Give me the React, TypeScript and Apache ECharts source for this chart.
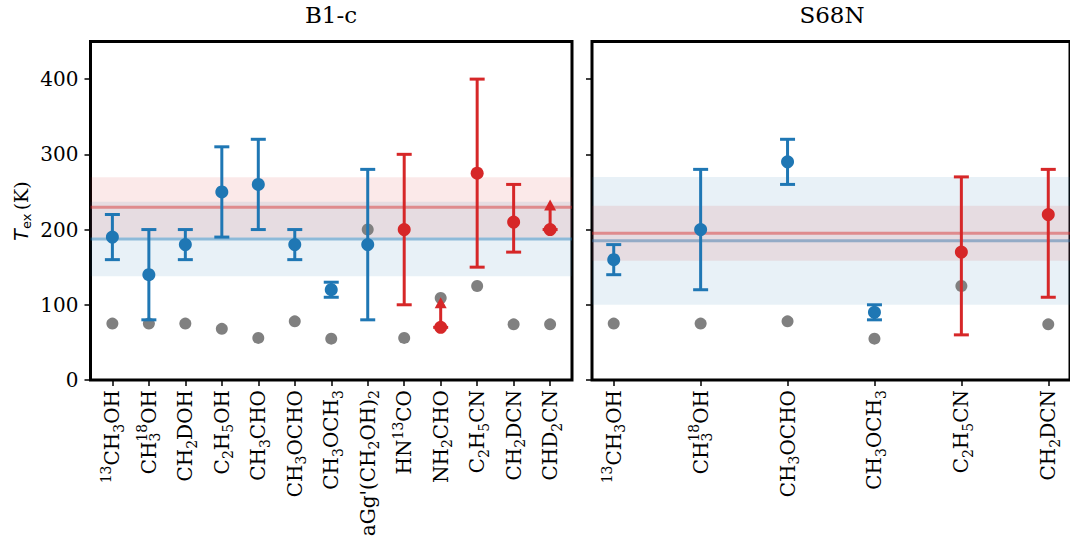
import React, { useEffect, useRef } from "react";
import * as echarts from "echarts";

// ---------- data ----------
const leftCategories = [
  "{sup|13}CH{sub|3}OH",
  "CH{sub|3}{supo|18}OH",
  "CH{sub|2}DOH",
  "C{sub|2}H{sub|5}OH",
  "CH{sub|3}CHO",
  "CH{sub|3}OCHO",
  "CH{sub|3}OCH{sub|3}",
  "aGg'(CH{sub|2}OH){sub|2}",
  "HN{sup|13}CO",
  "NH{sub|2}CHO",
  "C{sub|2}H{sub|5}CN",
  "CH{sub|2}DCN",
  "CHD{sub|2}CN",
];
const rightCategories = [
  "{sup|13}CH{sub|3}OH",
  "CH{sub|3}{supo|18}OH",
  "CH{sub|3}OCHO",
  "CH{sub|3}OCH{sub|3}",
  "C{sub|2}H{sub|5}CN",
  "CH{sub|2}DCN",
];
const yTicks = [0, 100, 200, 300, 400];

// B1-c
const leftBlueIdx = [0, 1, 2, 3, 4, 5, 6, 7];
const leftBlueVal = [190, 140, 180, 250, 260, 180, 120, 180];
const leftBlueLo = [160, 80, 160, 190, 200, 160, 110, 80];
const leftBlueHi = [220, 200, 200, 310, 320, 200, 130, 280];
const leftRedIdx = [8, 10, 11];
const leftRedVal = [200, 275, 210];
const leftRedLo = [100, 150, 170];
const leftRedHi = [300, 400, 260];
const leftLimIdx = [9, 12];
const leftLimVal = [70, 200];
const leftLimTop = [110, 240];
const leftGray = [75, 75, 75, 68, 56, 78, 55, 200, 56, 109, 125, 74, 74];
const leftBlueBand = [187.5, 138, 237]; // mean, low, high
const leftRedBand = [229.5, 189.5, 269.5];

// S68N
const rightBlueIdx = [0, 1, 2, 3];
const rightBlueVal = [160, 200, 290, 90];
const rightBlueLo = [140, 120, 260, 80];
const rightBlueHi = [180, 280, 320, 100];
const rightRedIdx = [4, 5];
const rightRedVal = [170, 220];
const rightRedLo = [60, 110];
const rightRedHi = [270, 280];
const rightGray = [75, 75, 78, 55, 125, 74];
const rightBlueBand = [185, 100, 270];
const rightRedBand = [195, 158.5, 231.5];

// ---------- styling ----------
const BLUE = "#1f77b4";
const RED = "#d62728";
const GRAY = "#808080";
const SERIF = "DejaVu Serif";

const rich = {
  sub: { fontSize: 14, fontFamily: SERIF, verticalAlign: "bottom", lineHeight: 14, color: "#000" },
  sup: { fontSize: 14, fontFamily: SERIF, verticalAlign: "top", lineHeight: 14, color: "#000" },
  supo: { fontSize: 14, fontFamily: SERIF, verticalAlign: "top", lineHeight: 14, color: "#000", padding: [0, 0, 0, -9] },
};

function errorBarRender(color: string) {
  return (params: any, api: any) => {
    const x = api.value(0);
    const lo = api.value(2);
    const hi = api.value(3);
    const p1 = api.coord([x, lo]);
    const p2 = api.coord([x, hi]);
    const hw = 7.5;
    const st = { stroke: color, lineWidth: 3 };
    return {
      type: "group",
      children: [
        { type: "line", shape: { x1: p1[0], y1: p1[1], x2: p2[0], y2: p2[1] }, style: st },
        { type: "line", shape: { x1: p1[0] - hw, y1: p1[1], x2: p1[0] + hw, y2: p1[1] }, style: st },
        { type: "line", shape: { x1: p2[0] - hw, y1: p2[1], x2: p2[0] + hw, y2: p2[1] }, style: st },
      ],
    };
  };
}

function arrowRender(color: string) {
  return (params: any, api: any) => {
    const x = api.value(0);
    const v = api.value(1);
    const top = api.value(2);
    const p1 = api.coord([x, v]);
    const p2 = api.coord([x, top]);
    const hw = 7.5;
    const headW = 6;
    const headH = 11;
    const st = { stroke: color, lineWidth: 3 };
    return {
      type: "group",
      children: [
        { type: "line", shape: { x1: p1[0], y1: p1[1], x2: p2[0], y2: p2[1] + headH - 1 }, style: st },
        { type: "line", shape: { x1: p1[0] - hw, y1: p1[1], x2: p1[0] + hw, y2: p1[1] }, style: st },
        {
          type: "polygon",
          shape: { points: [[p2[0], p2[1]], [p2[0] - headW, p2[1] + headH], [p2[0] + headW, p2[1] + headH]] },
          style: { fill: color },
        },
      ],
    };
  };
}

function bandRender(rgb: string) {
  return (params: any, api: any) => {
    const cs = params.coordSys;
    const mean = api.value(1);
    const lo = api.value(2);
    const hi = api.value(3);
    const yLo = api.coord([0, lo])[1];
    const yHi = api.coord([0, hi])[1];
    const yM = api.coord([0, mean])[1];
    return {
      type: "group",
      children: [
        {
          type: "rect",
          shape: { x: cs.x, y: yHi, width: cs.width, height: yLo - yHi },
          style: { fill: `rgba(${rgb},0.1)` },
        },
        {
          type: "line",
          shape: { x1: cs.x, y1: yM, x2: cs.x + cs.width, y2: yM },
          style: { stroke: `rgba(${rgb},0.45)`, lineWidth: 3 },
        },
      ],
    };
  };
}

function panelSeries(
  gi: number,
  blueIdx: number[], blueVal: number[], blueLo: number[], blueHi: number[],
  redIdx: number[], redVal: number[], redLo: number[], redHi: number[],
  limIdx: number[], limVal: number[], limTop: number[],
  gray: number[], blueBand: number[], redBand: number[]
) {
  const ax = { xAxisIndex: gi, yAxisIndex: gi };
  const s: any[] = [
    {
      type: "custom", ...ax, z: 1, silent: true,
      renderItem: bandRender("31,119,180"),
      encode: { x: 0, y: [1, 2, 3] },
      data: [[0, blueBand[0], blueBand[1], blueBand[2]]],
    },
    {
      type: "custom", ...ax, z: 1, silent: true,
      renderItem: bandRender("214,39,40"),
      encode: { x: 0, y: [1, 2, 3] },
      data: [[0, redBand[0], redBand[1], redBand[2]]],
    },
    {
      type: "scatter", ...ax, z: 2, symbolSize: 12,
      itemStyle: { color: GRAY, opacity: 1 },
      data: gray.map((v, i) => [i, v]),
    },
    {
      type: "custom", ...ax, z: 3, renderItem: errorBarRender(BLUE),
      encode: { x: 0, y: [1, 2, 3] },
      data: blueIdx.map((x, i) => [x, blueVal[i], blueLo[i], blueHi[i]]),
    },
    {
      type: "scatter", ...ax, z: 4, symbolSize: 13,
      itemStyle: { color: BLUE, opacity: 1 },
      data: blueIdx.map((x, i) => [x, blueVal[i]]),
    },
    {
      type: "custom", ...ax, z: 3, renderItem: errorBarRender(RED),
      encode: { x: 0, y: [1, 2, 3] },
      data: redIdx.map((x, i) => [x, redVal[i], redLo[i], redHi[i]]),
    },
    {
      type: "scatter", ...ax, z: 4, symbolSize: 13,
      itemStyle: { color: RED, opacity: 1 },
      data: redIdx.map((x, i) => [x, redVal[i]]),
    },
  ];
  if (limIdx.length) {
    s.push(
      {
        type: "custom", ...ax, z: 3, renderItem: arrowRender(RED),
        encode: { x: 0, y: [1, 2] },
        data: limIdx.map((x, i) => [x, limVal[i], limTop[i]]),
      },
      {
        type: "scatter", ...ax, z: 4, symbolSize: 13,
        itemStyle: { color: RED, opacity: 1 },
        data: limIdx.map((x, i) => [x, limVal[i]]),
      }
    );
  }
  return s;
}

function xAxis(gi: number, cats: string[], margin: number) {
  const idx = cats.map((_, i) => i);
  const n = cats.length - 1;
  return {
    type: "value",
    gridIndex: gi,
    min: -margin,
    max: n + margin,
    splitLine: { show: false },
    axisLine: { show: false, onZero: false },
    axisTick: { show: true, customValues: idx, length: 6, lineStyle: { color: "#000", width: 1.5 } },
    axisLabel: {
      customValues: idx,
      rotate: 90,
      margin: 10,
      color: "#000",
      fontFamily: SERIF,
      fontSize: 20,
      lineHeight: 27,
      formatter: (v: number) => cats[Math.round(v)] ?? "",
      rich,
    },
  };
}

function yAxis(gi: number, showLabels: boolean) {
  return {
    type: "value",
    gridIndex: gi,
    min: 0,
    max: 450,
    splitLine: { show: false },
    axisLine: { show: false, onZero: false },
    axisTick: { show: true, customValues: yTicks, length: 6, lineStyle: { color: "#000", width: 1.5 } },
    axisLabel: {
      show: showLabels,
      customValues: yTicks,
      margin: 12,
      color: "#000",
      fontFamily: SERIF,
      fontSize: 20,
    },
  };
}

export default function App() {
  const ref = useRef<HTMLDivElement>(null);
  useEffect(() => {
    if (!ref.current) return;
    const chart = echarts.init(ref.current, undefined, { renderer: "svg" });
    const gridStyle = { show: true, borderColor: "#000", borderWidth: 3, backgroundColor: "transparent" };
    chart.setOption({
      animation: false,
      backgroundColor: "#fff",
      grid: [
        { left: 90.5, top: 41.5, width: 481.5, height: 338.5, ...gridStyle },
        { left: 592, top: 41.5, width: 481, height: 338.5, ...gridStyle },
      ],
      xAxis: [xAxis(0, leftCategories, 0.6), xAxis(1, rightCategories, 0.25)],
      yAxis: [yAxis(0, true), yAxis(1, false)],
      series: [
        ...panelSeries(0, leftBlueIdx, leftBlueVal, leftBlueLo, leftBlueHi,
          leftRedIdx, leftRedVal, leftRedLo, leftRedHi,
          leftLimIdx, leftLimVal, leftLimTop, leftGray, leftBlueBand, leftRedBand),
        ...panelSeries(1, rightBlueIdx, rightBlueVal, rightBlueLo, rightBlueHi,
          rightRedIdx, rightRedVal, rightRedLo, rightRedHi,
          [], [], [], rightGray, rightBlueBand, rightRedBand),
      ],
      graphic: [
        {
          type: "text", x: 331, y: 15,
          style: { text: "B1-c", fontFamily: SERIF, fontSize: 23, fill: "#000", align: "center", verticalAlign: "middle" },
        },
        {
          type: "text", x: 832, y: 15,
          style: { text: "S68N", fontFamily: SERIF, fontSize: 23, fill: "#000", align: "center", verticalAlign: "middle" },
        },
        {
          type: "text", x: 21, y: 211, rotation: Math.PI / 2,
          style: {
            text: "{i|T}{s|ex} {n|(K)}",
            align: "center",
            verticalAlign: "middle",
            fill: "#000",
            rich: {
              i: { fontFamily: "DejaVu Sans", fontStyle: "italic", fontSize: 19, lineHeight: 24, verticalAlign: "middle" },
              s: { fontFamily: "DejaVu Sans", fontSize: 13, lineHeight: 13, verticalAlign: "bottom" },
              n: { fontFamily: SERIF, fontSize: 19, lineHeight: 24, verticalAlign: "middle" },
            },
          },
        },
      ],
    });
    return () => chart.dispose();
  }, []);
  return (
    <div
      ref={ref}
      style={{ position: "fixed", left: 0, top: 0, width: 1070, height: 545 }}
    />
  );
}
